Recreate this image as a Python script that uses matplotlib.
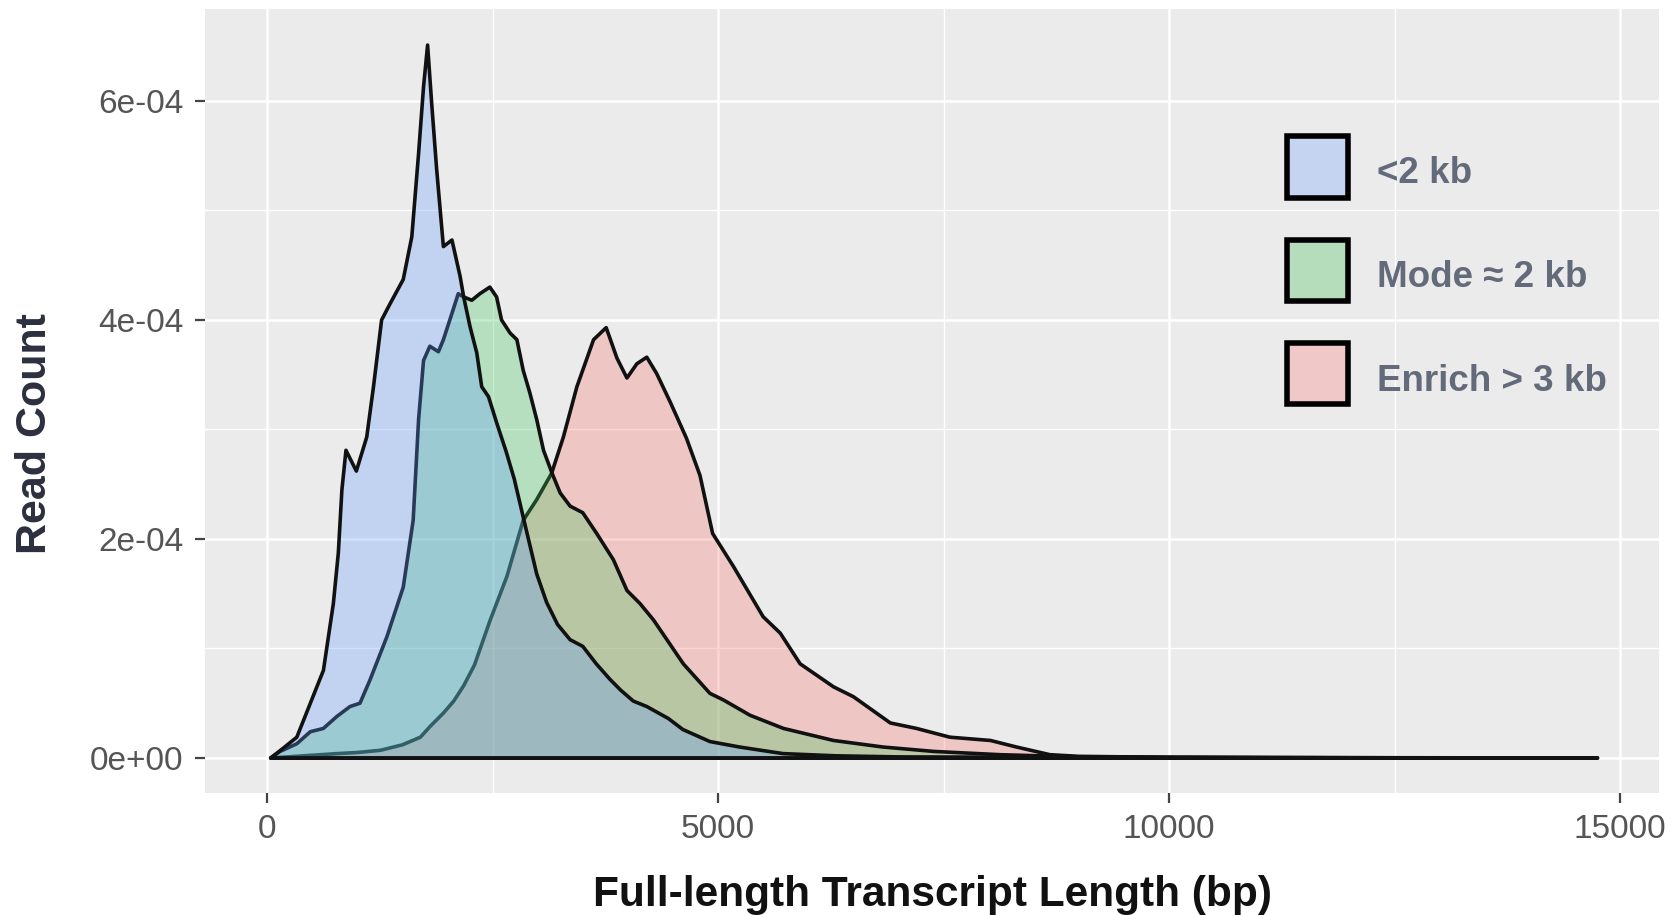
import numpy as np
import matplotlib
matplotlib.use('Agg')
import matplotlib.pyplot as plt
from matplotlib.colors import to_rgba
from matplotlib.patches import Rectangle
from matplotlib.ticker import MultipleLocator

plt.rcParams['font.family'] = ['Liberation Sans', 'DejaVu Sans']

# 读出来的密度曲线 (x: bp, y: 单位 1e-4)
labels = ['<2 kb', 'Mode \u2248 2 kb', 'Enrich > 3 kb']

short_x = [40, 180, 330, 480, 625, 735, 790, 830, 875, 990, 1105, 1180, 1270, 1365,
           1510, 1605, 1680, 1735, 1780, 1825, 1880, 1955, 2050, 2140, 2180, 2250,
           2325, 2380, 2455, 2550, 2650, 2740, 2840, 2990, 3100, 3220, 3360, 3500,
           3650, 3800, 3920, 4060, 4210, 4450, 4610, 4910, 5240, 5720, 6300, 7000,
           9000, 12000, 14750]
short_y = [0.0, 0.09, 0.19, 0.50, 0.80, 1.41, 1.87, 2.45, 2.81, 2.62, 2.93, 3.39, 4.00,
           4.15, 4.37, 4.76, 5.52, 6.13, 6.51, 5.98, 5.38, 4.67, 4.73, 4.40, 4.21,
           3.94, 3.70, 3.39, 3.30, 3.05, 2.80, 2.55, 2.20, 1.68, 1.42, 1.22, 1.08,
           1.02, 0.86, 0.72, 0.62, 0.52, 0.47, 0.36, 0.26, 0.15, 0.10, 0.04, 0.02,
           0.01, 0.005, 0.002, 0.0]

mode_x = [40, 145, 330, 480, 625, 775, 920, 1030, 1140, 1330, 1510, 1620, 1680, 1735,
          1805, 1900, 1955, 2050, 2120, 2180, 2270, 2360, 2470, 2545, 2600, 2695,
          2770, 2840, 2915, 2990, 3065, 3160, 3250, 3360, 3500, 3655, 3840, 3990,
          4135, 4285, 4615, 4910, 5060, 5355, 5725, 6280, 6830, 7390, 8130, 9000,
          11000, 14750]
mode_y = [0.0, 0.06, 0.13, 0.24, 0.27, 0.38, 0.47, 0.50, 0.71, 1.11, 1.56, 2.17, 3.09,
          3.63, 3.76, 3.71, 3.82, 4.06, 4.24, 4.21, 4.18, 4.24, 4.30, 4.21, 4.00,
          3.88, 3.82, 3.54, 3.33, 3.09, 2.81, 2.60, 2.42, 2.30, 2.24, 2.05, 1.81,
          1.53, 1.41, 1.26, 0.86, 0.59, 0.53, 0.39, 0.27, 0.16, 0.10, 0.06, 0.03,
          0.01, 0.004, 0.0]

long_x = [40, 775, 1000, 1255, 1500, 1700, 1810, 1955, 2070, 2180, 2300, 2470, 2660,
          2840, 2990, 3155, 3285, 3435, 3620, 3760, 3880, 3990, 4100, 4210, 4320,
          4470, 4650, 4800, 4940, 5170, 5500, 5690, 5910, 6280, 6500, 6910, 7200,
          7570, 8020, 8310, 8680, 9000, 10000, 12000, 14750]
long_y = [0.0, 0.04, 0.05, 0.07, 0.12, 0.19, 0.29, 0.41, 0.52, 0.66, 0.85, 1.25, 1.66,
          2.17, 2.36, 2.60, 2.93, 3.39, 3.82, 3.93, 3.65, 3.47, 3.60, 3.66, 3.51,
          3.25, 2.92, 2.58, 2.05, 1.75, 1.29, 1.14, 0.86, 0.65, 0.56, 0.32, 0.27,
          0.19, 0.16, 0.10, 0.03, 0.015, 0.006, 0.002, 0.0]

fill_colors = ['#619cff', '#3cc45a', '#f8766d']
legend_colors = ['#c5d4f0', '#b5dcbb', '#f0c8c8']

fig = plt.figure(figsize=(16.81, 9.15), dpi=100)
ax = fig.add_axes([0.1220, 0.1333, 0.8649, 0.8569])
ax.set_facecolor('#ebebeb')

# 画的顺序: 粉 -> 绿 -> 蓝 (蓝在最上面)
series = [(long_x, long_y, fill_colors[2]),
          (mode_x, mode_y, fill_colors[1]),
          (short_x, short_y, fill_colors[0])]
for i, (xs, ys, c) in enumerate(series):
    ax.fill(xs, np.array(ys) * 1e-4, fc=to_rgba(c, 0.3), ec='#111111',
            lw=2.6, zorder=2 + i, joinstyle='round')

ax.set_xlim(-687, 15432)
ax.set_ylim(-3.2e-5, 6.84e-4)
ax.set_xticks([0, 5000, 10000, 15000], labels=['0', '5000', '10000', '15000'])
ax.set_yticks([0, 2e-4, 4e-4, 6e-4], labels=['0e+00', '2e-04', '4e-04', '6e-04'])
ax.xaxis.set_minor_locator(MultipleLocator(2500))
ax.yaxis.set_minor_locator(MultipleLocator(1e-4))
ax.grid(which='major', color='white', lw=1.8, zorder=0)
ax.grid(which='minor', color='white', lw=1.0, zorder=0)
ax.set_axisbelow(True)
for s in ax.spines.values():
    s.set_visible(False)
ax.tick_params(which='major', length=7.2, width=1.6, color='#444444',
               labelsize=24, labelcolor='#555555')
ax.tick_params(axis='x', pad=8)
ax.tick_params(axis='y', pad=8.6)
ax.tick_params(which='minor', length=0)

# 坐标轴标题
fig.text(0.5545, 0.0098, 'Full-length Transcript Length (bp)', ha='center',
         va='baseline', fontsize=30.5, fontweight='bold', color='#111111')
fig.text(0.0208, 0.5257, 'Read Count', rotation=90, ha='center', va='center',
         fontsize=31, fontweight='bold', color='#2b2f3e')

# 图例 (手动画方块)
box_bottoms = [0.7593, 0.6276, 0.4959]
text_y = [0.7781, 0.6454, 0.5128]
for lab, c, yb, yt in zip(labels, legend_colors, box_bottoms, text_y):
    ax.add_patch(Rectangle((0.7442, yb), 0.04216, 0.0782, transform=ax.transAxes,
                           fc=c, ec='black', lw=4, zorder=10, clip_on=False))
    ax.text(0.8060, yt, lab, transform=ax.transAxes, ha='left', va='baseline',
            fontsize=26.5, fontweight='bold', color='#636b7b', zorder=10)

plt.savefig('out.png', dpi=100)
